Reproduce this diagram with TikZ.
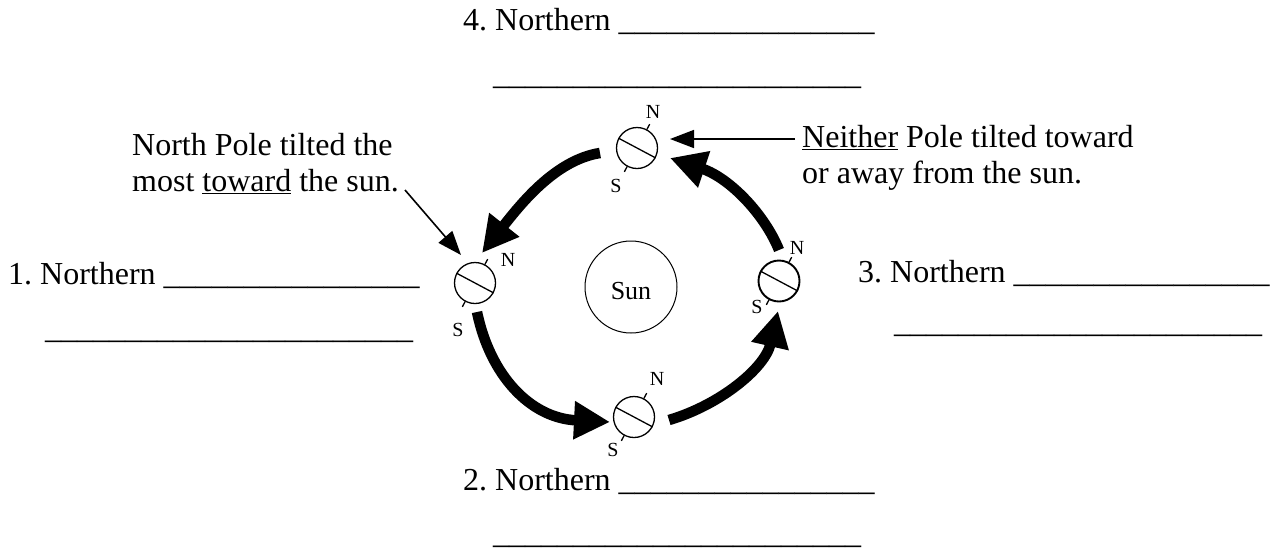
\documentclass[tikz,border=0pt]{standalone}
\usepackage{fontspec}
\setmainfont{Liberation Serif}
\usetikzlibrary{arrows.meta,calc}
\frenchspacing

% a row of n underscores for the answer blanks
\newcommand\blankline[1]{\foreach \k in {1,...,#1}{\textunderscore}}

% an Earth: circle, tilted equator line and the two pole ticks
\newcommand\drawglobe[3][]{%
  \node[globe,#1] (#2) at (#3) {};
  \draw[axisline] (#2.152) -- (#2.-28);
  \draw[axisline] ($(#2.center)+(62:21)$) -- ($(#2.center)+(62:27)$);
  \draw[axisline] ($(#2.center)+(242:21)$) -- ($(#2.center)+(242:27)$);
}

\begin{document}
\begin{tikzpicture}[x=1pt,y=1pt,
  txt/.style={anchor=base west,inner sep=0pt,font=\fontsize{32}{36}\selectfont},
  globe/.style={circle,draw,line width=1.3pt,minimum size=41pt,inner sep=0pt},
  axisline/.style={line width=1.3pt},
  pole/.style={inner sep=0pt,font=\fontsize{20}{20}\selectfont},
  orbit/.style={line width=10.5pt,-{Triangle[length=36pt,width=36pt]}},
  pointer/.style={line width=1.6pt,-{Triangle[length=24pt,width=18pt]}}]

\useasboundingbox (0,0) rectangle (1279,-550);

% the Sun
\node[circle,draw,line width=1pt,minimum size=92pt,inner sep=0pt] (sun) at (631,-287) {};
\node[anchor=base,inner sep=0pt,font=\fontsize{26}{26}\selectfont] (sunlabel) at (631,-299) {Sun};

% Earth at the four positions
\drawglobe{p4}{637,-148}
\drawglobe{p1}{475,-283}
\drawglobe{p2}{634,-417}
\drawglobe[line width=1.9pt]{p3}{779,-281}

% pole letters
\node[pole] (n4) at (653,-112) {N};
\node[pole] (s4) at (616,-186) {S};
\node[pole] (n1) at (508,-260) {N};
\node[pole] (s1) at (458,-330) {S};
\node[pole] (n2) at (657,-379) {N};
\node[pole] (s2) at (613,-450) {S};
\node[pole] (n3) at (797,-248) {N};
\node[pole] (s3) at (757,-307) {S};

% orbit arrows
\coordinate (a1s) at (600,-153);
\coordinate (a1e) at (482,-253);
\coordinate (a2s) at (477,-312);
\coordinate (a2e) at (610,-422);
\coordinate (a3s) at (669,-420);
\coordinate (a3e) at (778,-311);
\coordinate (a4s) at (779,-250);
\coordinate (a4e) at (670,-158);
\draw[orbit] (a1s) .. controls (555,-160) and (520,-205) .. (a1e);
\draw[orbit] (a2s) .. controls (490,-375) and (530,-418) .. (a2e);
\draw[orbit] (a3s) .. controls (720,-405) and (765,-368) .. (a3e);
\draw[orbit] (a4s) .. controls (765,-215) and (730,-178) .. (a4e);

% answer blanks
\node[txt] (r4)  at (463,-30)  {4. Northern \blankline{16}};
\node[txt] (r4b) at (493,-84)  {\blankline{23}};
\node[txt] (r1)  at (8,-284)   {1. Northern \blankline{16}};
\node[txt] (r1b) at (45,-338)  {\blankline{23}};
\node[txt] (r3)  at (858,-282) {3. Northern \blankline{16}};
\node[txt] (r3b) at (894,-332) {\blankline{23}};
\node[txt] (r2)  at (463,-490) {2. Northern \blankline{16}};
\node[txt] (r2b) at (493,-543) {\blankline{23}};

% callouts
\node[txt] (tl1) at (132,-155) {North Pole tilted the};
\node[txt] (tl2) at (132,-191) {most \underline{toward} the sun.};
\node[txt] (tr1) at (802,-147) {\underline{Neither} Pole tilted toward};
\node[txt] (tr2) at (802,-183) {or away from the sun.};

\coordinate (c1s) at (405,-190);
\coordinate (c1e) at (461,-255);
\coordinate (c2s) at (795,-139);
\coordinate (c2e) at (670,-139);
\draw[pointer] (c1s) -- (c1e);
\draw[pointer] (c2s) -- (c2e);
\end{tikzpicture}
\end{document}
